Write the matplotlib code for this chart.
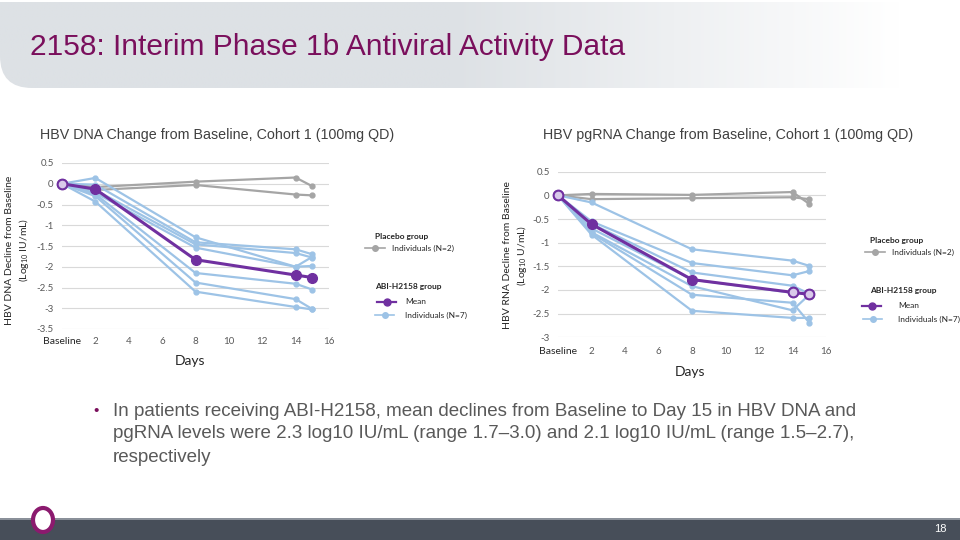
import numpy as np
import matplotlib.pyplot as plt
from matplotlib.lines import Line2D
from matplotlib.patches import FancyBboxPatch, Rectangle, Ellipse, Wedge
from matplotlib.colors import LinearSegmentedColormap

plt.rcParams['mathtext.default'] = 'regular'

# ---- data ----
days = [0, 2, 8, 14, 15]

dna_placebo = [
    [0, -0.08, 0.05, 0.15, -0.06],
    [0, -0.15, -0.03, -0.26, -0.28],
]
dna_individuals = [
    [0, 0.14, -1.29, -2.00, -1.76],
    [0, -0.02, -1.41, -1.58, -1.70],
    [0, -0.15, -1.46, -1.67, -1.78],
    [0, -0.22, -1.54, -2.00, -1.98],
    [0, -0.25, -2.15, -2.41, -2.55],
    [0, -0.30, -2.38, -2.78, -3.02],
    [0, -0.43, -2.60, -2.97, -3.03],
]
dna_mean = [0, -0.13, -1.83, -2.20, -2.26]

rna_placebo = [
    [0, 0.03, 0.01, 0.07, -0.18],
    [0, -0.08, -0.06, -0.04, -0.08],
]
rna_individuals = [
    [0, -0.15, -1.14, -1.38, -1.49],
    [0, -0.55, -1.43, -1.69, -1.60],
    [0, -0.60, -1.63, -1.91, -2.08],
    [0, -0.70, -1.78, -2.06, -2.10],
    [0, -0.78, -1.92, -2.43, -2.10],
    [0, -0.80, -2.10, -2.27, -2.69],
    [0, -0.83, -2.44, -2.59, -2.59],
]
rna_mean = [0, -0.61, -1.78, -2.05, -2.09]

x_ticks = [0, 2, 4, 6, 8, 10, 12, 14, 16]
x_ticklabels = ['Baseline', '2', '4', '6', '8', '10', '12', '14', '16']

GRAY = '#a5a5a5'
BLUE = '#9dc3e6'
PURPLE = '#7030a0'
TITLE_PURPLE = '#7a0f5c'
TXT = '#404040'
CH_FONT = ['Lato', 'DejaVu Sans']

W, H = 960, 540
fig = plt.figure(figsize=(9.6, 5.4), dpi=100)

# background layer in pixel coordinates
bg = fig.add_axes([0, 0, 1, 1], zorder=-5)
bg.set_xlim(0, W)
bg.set_ylim(H, 0)
bg.axis('off')

# header band with gradient and rounded bottom-left corner
xs = np.linspace(0, W, 400)
t = np.clip((xs - 450) / 450, 0, 1)
grad = np.tile(t, (2, 1))
cmap = LinearSegmentedColormap.from_list('hdr', ['#dde1e5', '#ffffff'])
im = bg.imshow(grad, cmap=cmap, extent=(0, W, 88, 2), aspect='auto', zorder=0)
clip = FancyBboxPatch((0, -60), W + 60, 148, boxstyle='round,pad=0,rounding_size=32',
                      transform=bg.transData, facecolor='none', edgecolor='none')
bg.add_patch(clip)
im.set_clip_path(clip)

bg.text(30, 47, '2158: Interim Phase 1b Antiviral Activity Data', fontsize=21.5,
        color=TITLE_PURPLE, family=['Liberation Sans Narrow', 'Liberation Sans'],
        ha='left', va='center')

# footer
bg.add_patch(Rectangle((0, 519), W, 21, facecolor='#474e59', edgecolor='none', zorder=1))
bg.add_patch(Rectangle((0, 518), W, 1.5, facecolor='#8a9099', edgecolor='none', zorder=1))
bg.add_patch(Wedge((905, 565), 100, 0, 180, width=28, facecolor='#cfd3d8', alpha=0.6,
                   edgecolor='none', zorder=2))
bg.add_patch(Ellipse((43, 520), 20, 24, facecolor='white', edgecolor='#8b1a6e', lw=3.0, zorder=3))
bg.text(940, 529, '18', fontsize=8, color='white', ha='center', va='center',
        family=['Liberation Sans'])

# bullet text
bullet_lines = [
    'In patients receiving ABI-H2158, mean declines from Baseline to Day 15 in HBV DNA and',
    'pgRNA levels were 2.3 log10 IU/mL (range 1.7\u20133.0) and 2.1 log10 IU/mL (range 1.5\u20132.7),',
    'respectively',
]
bg.text(96, 411, '\u2022', fontsize=11, color=TITLE_PURPLE, ha='center', va='center',
        family=['Liberation Sans'])
for i, ln in enumerate(bullet_lines):
    bg.text(113, 411 + 23 * i, ln, fontsize=13.5, color='#595959', ha='left', va='center',
            family=['Liberation Sans'])


def draw_panel(rect, placebo, indiv, mean, ylim, yticks, open_idx):
    ax = fig.add_axes(rect)
    for p in placebo:
        ax.plot(days, p, color=GRAY, lw=1.6, marker='o', ms=3.5, zorder=2)
    for s in indiv:
        ax.plot(days, s, color=BLUE, lw=1.6, marker='o', ms=3.5, zorder=3)
    ax.plot(days, mean, color=PURPLE, lw=2.2, marker='o', ms=7, zorder=4)
    # lighter-filled mean markers where the reference shows them
    ax.plot([days[i] for i in open_idx], [mean[i] for i in open_idx], ls='none',
            marker='o', ms=7, mfc='#d9c9ea', mec=PURPLE, mew=1.5, zorder=5)
    ax.set_xlim(0, 16)
    ax.set_ylim(*ylim)
    ax.set_yticks(yticks)
    ax.set_yticklabels([('%g' % v) for v in yticks])
    ax.set_xticks(x_ticks)
    ax.set_xticklabels(x_ticklabels)
    ax.grid(axis='y', color='#d9d9d9', lw=0.8)
    ax.set_axisbelow(True)
    for sp in ax.spines.values():
        sp.set_visible(False)
    ax.tick_params(length=0, labelsize=7, labelcolor='#595959', pad=6)
    for lb in ax.get_xticklabels() + ax.get_yticklabels():
        lb.set_family(CH_FONT)
    base = ax.get_xticklabels()[0]
    base.set_color('#262626')
    base.set_fontsize(7.5)
    for ln in ax.lines:
        ln.set_clip_on(False)
    return ax


draw_panel([62 / W, 1 - 329 / H, 267 / W, 166 / H], dna_placebo, dna_individuals, dna_mean,
           (-3.5, 0.5), np.arange(-3.5, 0.51, 0.5), [0])
ax2 = draw_panel([558 / W, 1 - 337.3 / H, 268 / W, 165.6 / H], rna_placebo, rna_individuals,
                 rna_mean, (-3, 0.5), np.arange(-3, 0.51, 0.5), [0, 3, 4])
ax2.tick_params(axis='x', pad=7)

# panel titles and axis labels
bg.text(40, 135, 'HBV DNA Change from Baseline, Cohort 1 (100mg QD)', fontsize=10.3,
        color=TXT, ha='left', va='center', family=['Liberation Sans'])
bg.text(543, 135, 'HBV pgRNA Change from Baseline, Cohort 1 (100mg QD)', fontsize=10.3,
        color=TXT, ha='left', va='center', family=['Liberation Sans'])
bg.text(190, 361, 'Days', fontsize=10, color='#262626', ha='center', va='center', family=CH_FONT)
bg.text(690, 372, 'Days', fontsize=10, color='#262626', ha='center', va='center', family=CH_FONT)
bg.text(18, 250, 'HBV DNA Decline from Baseline\n(Log$_{10}$ IU/mL)', fontsize=7.5,
        color='#262626', rotation=90, ha='center', va='center', family=CH_FONT,
        linespacing=1.3)
bg.text(516, 255, 'HBV RNA Decline from Baseline\n(Log$_{10}$ U/mL)', fontsize=7.5,
        color='#262626', rotation=90, ha='center', va='center', family=CH_FONT,
        linespacing=1.3)


# legends
def legend_entry(x0, x1, y, color, ms, lw, label, tx):
    bg.add_line(Line2D([x0, x1], [y, y], color=color, lw=lw, zorder=3))
    bg.add_line(Line2D([(x0 + x1) / 2], [y], color=color, marker='o', ms=ms, zorder=3))
    bg.text(tx, y, label, fontsize=6, color='#262626', ha='left', va='center', family=CH_FONT)


def legend_block(x, y, gray_x, mean_x, ind_x, tx):
    bg.text(x, y, 'Placebo group', fontsize=6, fontweight='bold', color='#262626',
            ha='left', va='center', family=CH_FONT)
    legend_entry(gray_x, gray_x + 20, y + 12, GRAY, 4, 1.2, 'Individuals (N=2)', gray_x + 27)
    bg.text(x, y + 51, 'ABI-H2158 group', fontsize=6, fontweight='bold', color='#262626',
            ha='left', va='center', family=CH_FONT)
    legend_entry(mean_x, mean_x + 19, y + 66, PURPLE, 5, 1.6, 'Mean', tx)
    legend_entry(ind_x, ind_x + 19, y + 79, BLUE, 4, 1.2, 'Individuals (N=7)', tx)


legend_block(375, 236, 365, 377, 375, 405)
legend_block(870, 240, 865, 862, 863, 898)

fig.savefig('out.png', dpi=100)
